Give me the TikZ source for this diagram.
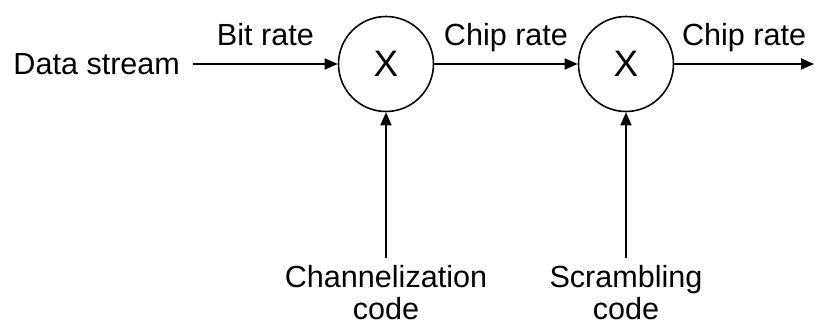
\documentclass[tikz,border=0pt]{standalone}
\usepackage{fontspec}
\setmainfont{Liberation Sans}
\usepackage{tikz}
\usetikzlibrary{
  positioning,
  arrows.meta
}

\begin{document}
\begin{tikzpicture}[
  font=\fontsize{17.4}{18.4}\selectfont,
  mixer/.style={
    draw,
    circle,
    line width=0.9pt,
    minimum size=1.9cm,
    inner sep=0pt,
    font=\fontsize{21}{24}\selectfont
  },
  link/.style={
    line width=1pt,
    -{Triangle[length=0.26cm, width=0.22cm]}
  },
  rate/.style={
    above=0.28cm,
    inner sep=0pt,
    text depth=0.22em
  },
  codelbl/.style={
    align=center,
    inner sep=0pt,
    outer sep=0.15cm
  }
]

% Frame
\useasboundingbox (0,0) rectangle (16.3,6.52);

% Mixers
\node[mixer] (mix1) at (7.72,5.24) {X};
\node[mixer] (mix2) at (12.52,5.24) {X};

% Inputs
\node[anchor=east, inner sep=0pt, outer sep=0.26cm] (data) at (3.86,5.24) {Data stream};
\coordinate (out) at (16.28,5.24);

% Code inputs
\node[codelbl, anchor=north] (chan) at (7.72,1.36) {Channelization\\code};
\node[codelbl, anchor=north] (scr) at (12.52,1.36) {Scrambling\\code};

% Connectors
\draw[link] (data.east) -- node[rate] {Bit rate} (mix1);
\draw[link] (mix1) -- node[rate] {Chip rate} (mix2);
\draw[link] (mix2) -- node[rate] {Chip rate} (out);
\draw[link] (chan.north) -- (mix1);
\draw[link] (scr.north) -- (mix2);

\end{tikzpicture}
\end{document}
